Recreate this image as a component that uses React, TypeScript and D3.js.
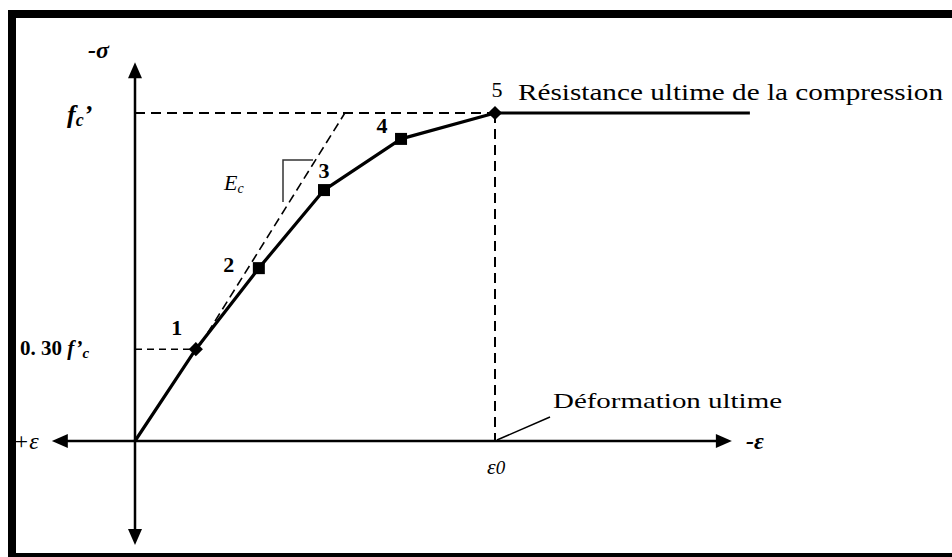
import React from "react";
import * as d3 from "d3";

// Normalised strain (ε/ε0) and stress (σ/f'c)
const pointLabels = ["1", "2", "3", "4", "5"];
const strainValues = [0.169, 0.344, 0.525, 0.739, 1.0];
const stressValues = [0.28, 0.527, 0.765, 0.921, 1.0];
const plateauEnd = 1.708;
const ecLineStrain = [0.181, 0.583];
const ecLineStress = [0.293, 1.0];
const xAxisExtent = [-0.231, 1.658];
const yAxisExtent = [-0.317, 1.155];
const lowStressLevel = 0.28;

const W = 952;
const H = 557;
const serif = "Liberation Serif, Times New Roman, DejaVu Serif, serif";

export default function App() {
  const x = d3.scaleLinear().domain([0, 1]).range([135, 495]);
  const y = d3.scaleLinear().domain([0, 1]).range([441, 113]);

  const curvePts: [number, number][] = [[0, 0]];
  strainValues.forEach((s, i) => curvePts.push([s, stressValues[i]]));
  curvePts.push([plateauEnd, 1]);
  const line = d3
    .line<[number, number]>()
    .x((d) => x(d[0]))
    .y((d) => y(d[1]));

  const ecPts: [number, number][] = ecLineStrain.map((s, i) => [s, ecLineStress[i]]);

  const labelOffsets: [number, number][] = [
    [-19, -14],
    [-30, 4],
    [0, -12],
    [-19, -6],
    [2, -16],
  ];

  return (
    <svg
      width={W}
      height={H}
      style={{ position: "absolute", left: 0, top: 0, background: "#fff", fontFamily: serif }}
    >
      <rect x={0} y={0} width={W} height={H} fill="#fff" />
      {/* frame */}
      <rect x={12} y={14} width={970} height={543} fill="none" stroke="#000" strokeWidth={8} />

      {/* axes */}
      <line x1={x(xAxisExtent[0]) + 12} y1={y(0)} x2={x(xAxisExtent[1]) - 12} y2={y(0)} stroke="#000" strokeWidth={2.5} />
      <path d={`M${x(xAxisExtent[0])},${y(0)} l16,-7 l0,14 z`} fill="#000" />
      <path d={`M${x(xAxisExtent[1])},${y(0)} l-16,-7 l0,14 z`} fill="#000" />
      <line x1={x(0)} y1={y(yAxisExtent[1]) + 12} x2={x(0)} y2={y(yAxisExtent[0]) - 12} stroke="#000" strokeWidth={2.5} />
      <path d={`M${x(0)},${y(yAxisExtent[1])} l-7,16 l14,0 z`} fill="#000" />
      <path d={`M${x(0)},${y(yAxisExtent[0])} l-7,-16 l14,0 z`} fill="#000" />

      {/* dashed reference lines */}
      <line x1={x(0)} y1={y(1)} x2={x(1)} y2={y(1)} stroke="#000" strokeWidth={2} strokeDasharray="10,6" />
      <line x1={x(1)} y1={y(1)} x2={x(1)} y2={y(0)} stroke="#000" strokeWidth={2} strokeDasharray="10,6" />
      <line x1={x(0)} y1={y(lowStressLevel)} x2={x(strainValues[0])} y2={y(lowStressLevel)} stroke="#000" strokeWidth={1.5} strokeDasharray="7,5" />
      <path d={line(ecPts) || ""} fill="none" stroke="#000" strokeWidth={1.6} strokeDasharray="9,5" />

      {/* slope triangle */}
      <path d="M313,160 L283,160 L283,202" fill="none" stroke="#333" strokeWidth={1.5} />

      {/* curve */}
      <path d={line(curvePts) || ""} fill="none" stroke="#000" strokeWidth={3.2} strokeLinejoin="round" />

      {strainValues.map((s, i) => (
        <g key={i}>
          {i === 0 || i === 4 ? (
            <rect x={x(s) - 5} y={y(stressValues[i]) - 5} width={10} height={10} fill="#000" transform={`rotate(45 ${x(s)} ${y(stressValues[i])})`} />
          ) : (
            <rect x={x(s) - 6} y={y(stressValues[i]) - 6} width={12} height={12} fill="#000" />
          )}
          <text
            x={x(s) + labelOffsets[i][0]}
            y={y(stressValues[i]) + labelOffsets[i][1]}
            fontSize={22}
            fontWeight={i === 4 ? "normal" : "bold"}
            textAnchor="middle"
          >
            {pointLabels[i]}
          </text>
        </g>
      ))}

      {/* leader for ultimate strain */}
      <line x1={x(1) + 2} y1={y(0) - 1} x2={550} y2={417} stroke="#000" strokeWidth={1.5} />

      {/* texts */}
      <text x={88} y={58} fontSize={24} fontStyle="italic" fontWeight="bold">-σ</text>
      <text x={67} y={123} fontSize={26} fontStyle="italic" fontWeight="bold">
        f<tspan fontSize={18} dy={3}>c</tspan><tspan dy={-3}>’</tspan>
      </text>
      <text x={20} y={355} fontSize={21} fontWeight="bold">
        0. 30 <tspan fontStyle="italic">f’</tspan><tspan fontStyle="italic" fontSize={15} dy={3}>c</tspan>
      </text>
      <text x={224} y={190} fontSize={22} fontStyle="italic">
        E<tspan fontSize={14} dy={3}>c</tspan>
      </text>
      <text x={518} y={100} fontSize={24} textLength={425} lengthAdjust="spacingAndGlyphs">Résistance  ultime de la compression</text>
      <text x={553} y={408} fontSize={22} textLength={229} lengthAdjust="spacingAndGlyphs">Déformation ultime</text>
      <text x={487} y={474} fontSize={22} fontStyle="italic">ε<tspan fontSize={19}>0</tspan></text>
      <text x={746} y={449} fontSize={24} fontStyle="italic" fontWeight="bold">-ε</text>
      <text x={13} y={449} fontSize={24} fontStyle="italic">+ε</text>
    </svg>
  );
}
